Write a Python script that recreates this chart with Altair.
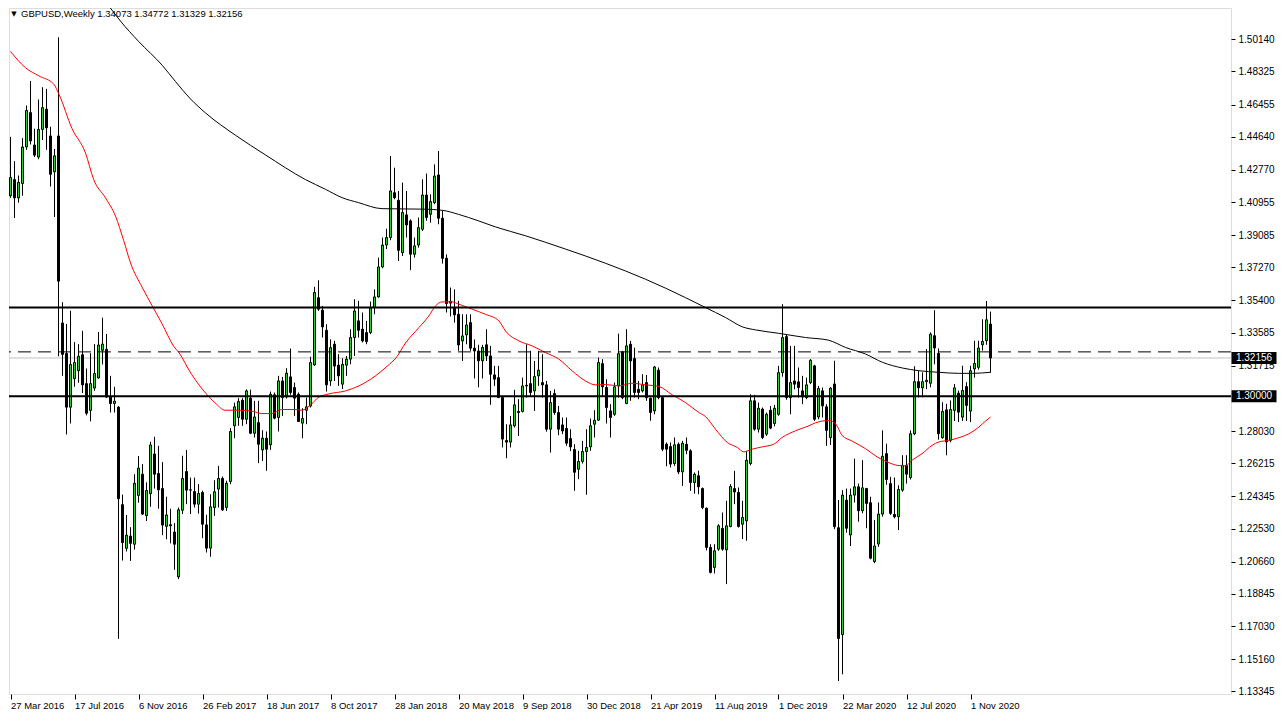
import altair as alt
import pandas as pd

# ---------------- data (weekly GBPUSD candles, first = week of 27 Mar 2016) ----------------
opens = [
    1.4131, 1.4222, 1.4119, 1.4200, 1.4406, 1.4600, 1.4417, 1.4349, 1.4505, 1.4619,
    1.4468, 1.4266, 1.4468, 1.3413, 1.3241, 1.2938, 1.3099, 1.3144, 1.3234, 1.3071,
    1.2920, 1.3046, 1.3103, 1.3259, 1.3264, 1.2995, 1.2959, 1.2938, 1.2388, 1.2142,
    1.2211, 1.2165, 1.2440, 1.2560, 1.2326, 1.2450, 1.2674, 1.2564, 1.2479, 1.2266,
    1.2275, 1.2234, 1.1981, 1.2357, 1.2575, 1.2470, 1.2462, 1.2391, 1.2457, 1.2274,
    1.2143, 1.2372, 1.2476, 1.2536, 1.2372, 1.2519, 1.2833, 1.2880, 1.2977, 1.2870,
    1.2989, 1.2791, 1.2851, 1.2697, 1.2763, 1.2726, 1.3008, 1.2880, 1.3086, 1.2996,
    1.3109, 1.3049, 1.3011, 1.2848, 1.2921, 1.2945, 1.3177, 1.3556, 1.3485, 1.3372,
    1.3086, 1.3293, 1.3175, 1.3068, 1.3175, 1.3209, 1.3331, 1.3425, 1.3378, 1.3359,
    1.3359, 1.3500, 1.3560, 1.3729, 1.3853, 1.3895, 1.4148, 1.4105, 1.3810, 1.4023,
    1.3989, 1.3801, 1.3853, 1.3942, 1.4135, 1.4026, 1.4092, 1.4248, 1.4004, 1.3778,
    1.3535, 1.3500, 1.3462, 1.3312, 1.3346, 1.3415, 1.3271, 1.3255, 1.3200, 1.3290,
    1.3227, 1.3120, 1.3105, 1.2992, 1.2750, 1.2741, 1.2833, 1.2914, 1.2914, 1.3062,
    1.3071, 1.3030, 1.3115, 1.3077, 1.3064, 1.2814, 1.3015, 1.2908, 1.2838, 1.2818,
    1.2761, 1.2699, 1.2588, 1.2632, 1.2688, 1.2714, 1.2842, 1.2865, 1.3184, 1.3049,
    1.2917, 1.2898, 1.3058, 1.3250, 1.2959, 1.3293, 1.3212, 1.3039, 1.3030, 1.3077,
    1.2989, 1.2917, 1.3147, 1.2992, 1.2729, 1.2716, 1.2620, 1.2729, 1.2573, 1.2729,
    1.2692, 1.2513, 1.2551, 1.2479, 1.2368, 1.2147, 1.2034, 1.2137, 1.2254, 1.2133,
    1.2265, 1.2479, 1.2457, 1.2278, 1.2297, 1.2620, 1.2974, 1.2814, 1.2927, 1.2786,
    1.2921, 1.2846, 1.2898, 1.3133, 1.3336, 1.2992, 1.3086, 1.3081, 1.3030, 1.2992,
    1.3077, 1.3171, 1.2883, 1.3030, 1.2940, 1.2766, 1.3069, 1.2258, 1.1655, 1.2414,
    1.2217, 1.2442, 1.2489, 1.2354, 1.2479, 1.2399, 1.2067, 1.2166, 1.2335, 1.2676,
    1.2507, 1.2333, 1.2320, 1.2470, 1.2610, 1.2541, 1.2788, 1.3082, 1.3047, 1.3082,
    1.3073, 1.3341, 1.3242, 1.2766, 1.2923, 1.2751, 1.2920, 1.3017, 1.2882, 1.3054,
    1.2916, 1.3154, 1.3163, 1.3290, 1.3313, 1.34073,
]
highs = [
    1.4463, 1.4326, 1.4245, 1.4456, 1.4640, 1.4778, 1.4509, 1.4674, 1.4743, 1.4734,
    1.4520, 1.4395, 1.5025, 1.3530, 1.3408, 1.3482, 1.3305, 1.3294, 1.3369, 1.3156,
    1.3243, 1.3294, 1.3362, 1.3443, 1.3351, 1.3115, 1.3053, 1.2945, 1.2445, 1.2330,
    1.2261, 1.2560, 1.2663, 1.2617, 1.2514, 1.2743, 1.2771, 1.2720, 1.2628, 1.2433,
    1.2365, 1.2284, 1.2372, 1.2664, 1.2697, 1.2541, 1.2541, 1.2504, 1.2467, 1.2331,
    1.2447, 1.2526, 1.2607, 1.2547, 1.2523, 1.2820, 1.2964, 1.2989, 1.2989, 1.3039,
    1.3037, 1.2974, 1.2974, 1.2808, 1.2801, 1.3026, 1.3021, 1.3115, 1.3109, 1.3158,
    1.3269, 1.3077, 1.3021, 1.2932, 1.2992, 1.3222, 1.3617, 1.3654, 1.3509, 1.3406,
    1.3321, 1.3312, 1.3237, 1.3214, 1.3227, 1.3378, 1.3547, 1.3538, 1.3472, 1.3425,
    1.3534, 1.3603, 1.3782, 1.3895, 1.3945, 1.4355, 1.4289, 1.4158, 1.4205, 1.4158,
    1.3998, 1.3895, 1.4008, 1.4224, 1.4256, 1.4139, 1.4308, 1.4383, 1.4045, 1.3800,
    1.3613, 1.3603, 1.3538, 1.3462, 1.3462, 1.3462, 1.3320, 1.3290, 1.3290, 1.3378,
    1.3284, 1.3171, 1.3171, 1.3002, 1.2842, 1.2889, 1.3036, 1.2983, 1.3105, 1.3293,
    1.3256, 1.3199, 1.3256, 1.3237, 1.3086, 1.3030, 1.3039, 1.2945, 1.2880, 1.2880,
    1.2814, 1.2729, 1.2692, 1.2748, 1.2814, 1.2874, 1.2921, 1.3218, 1.3209, 1.3096,
    1.2955, 1.3077, 1.3353, 1.3256, 1.3378, 1.3312, 1.3274, 1.3086, 1.3124, 1.3120,
    1.2992, 1.3171, 1.3162, 1.2995, 1.2739, 1.2739, 1.2767, 1.2739, 1.2748, 1.2767,
    1.2701, 1.2570, 1.2580, 1.2485, 1.2372, 1.2165, 1.2165, 1.2278, 1.2344, 1.2410,
    1.2504, 1.2579, 1.2485, 1.2410, 1.2692, 1.3011, 1.3008, 1.2964, 1.2936, 1.2908,
    1.2945, 1.2951, 1.3171, 1.3519, 1.3350, 1.3284, 1.3284, 1.3162, 1.3115, 1.3105,
    1.3209, 1.3177, 1.3058, 1.3049, 1.2955, 1.3051, 1.3200, 1.2414, 1.2470, 1.2479,
    1.2479, 1.2648, 1.2507, 1.2639, 1.2483, 1.2433, 1.2301, 1.2400, 1.2807, 1.2732,
    1.2545, 1.2541, 1.2498, 1.2667, 1.2667, 1.2807, 1.3169, 1.3144, 1.3135, 1.3266,
    1.3360, 1.3485, 1.3270, 1.2966, 1.2957, 1.2976, 1.3069, 1.3032, 1.3172, 1.3079,
    1.3172, 1.3313, 1.3313, 1.3434, 1.3537, 1.34772,
]
lows = [
    1.4119, 1.4005, 1.4092, 1.4131, 1.4390, 1.4420, 1.4349, 1.4337, 1.4445, 1.4390,
    1.4183, 1.4011, 1.3225, 1.3115, 1.2784, 1.2846, 1.3053, 1.3076, 1.3018, 1.2892,
    1.2858, 1.3030, 1.3099, 1.3179, 1.2991, 1.2908, 1.2908, 1.1631, 1.2073, 1.2124,
    1.2071, 1.2135, 1.2399, 1.2330, 1.2296, 1.2376, 1.2479, 1.2365, 1.2216, 1.2193,
    1.2170, 1.2021, 1.1968, 1.2335, 1.2391, 1.2335, 1.2372, 1.2338, 1.2199, 1.2118,
    1.2094, 1.2325, 1.2372, 1.2353, 1.2353, 1.2504, 1.2763, 1.2833, 1.2833, 1.2842,
    1.2786, 1.2767, 1.2622, 1.2635, 1.2579, 1.2697, 1.2870, 1.2801, 1.2889, 1.2987,
    1.3008, 1.2889, 1.2857, 1.2763, 1.2842, 1.2936, 1.3171, 1.3481, 1.3331, 1.3026,
    1.3058, 1.3086, 1.3058, 1.3040, 1.3115, 1.3180, 1.3227, 1.3331, 1.3303, 1.3293,
    1.3350, 1.3462, 1.3556, 1.3722, 1.3830, 1.3880, 1.4111, 1.3763, 1.3791, 1.3895,
    1.3711, 1.3782, 1.3838, 1.3932, 1.3990, 1.3979, 1.4083, 1.3970, 1.3748, 1.3472,
    1.3450, 1.3415, 1.3256, 1.3199, 1.3293, 1.3256, 1.3100, 1.3050, 1.3100, 1.3199,
    1.2951, 1.3058, 1.2990, 1.2711, 1.2650, 1.2711, 1.2823, 1.2776, 1.2908, 1.2992,
    1.3002, 1.2917, 1.3058, 1.2992, 1.2800, 1.2682, 1.2895, 1.2780, 1.2786, 1.2720,
    1.2690, 1.2466, 1.2532, 1.2620, 1.2444, 1.2692, 1.2767, 1.2860, 1.3000, 1.2846,
    1.2767, 1.2889, 1.2992, 1.2983, 1.2955, 1.2974, 1.2992, 1.2983, 1.3021, 1.2974,
    1.2861, 1.2898, 1.2983, 1.2690, 1.2605, 1.2598, 1.2607, 1.2560, 1.2494, 1.2673,
    1.2466, 1.2450, 1.2447, 1.2363, 1.2130, 1.2000, 1.2000, 1.2128, 1.2128, 1.1940,
    1.2260, 1.2391, 1.2259, 1.2194, 1.2184, 1.2610, 1.2805, 1.2795, 1.2758, 1.2776,
    1.2814, 1.2830, 1.2890, 1.3110, 1.2980, 1.2898, 1.3039, 1.2992, 1.2955, 1.2983,
    1.3068, 1.2860, 1.2870, 1.2880, 1.2720, 1.2725, 1.2250, 1.1393, 1.1431, 1.2230,
    1.2155, 1.2400, 1.2292, 1.2340, 1.2255, 1.2080, 1.2058, 1.2150, 1.2320, 1.2500,
    1.2330, 1.2311, 1.2245, 1.2461, 1.2507, 1.2530, 1.2780, 1.2994, 1.2994, 1.3040,
    1.3050, 1.3180, 1.2755, 1.2760, 1.2667, 1.2740, 1.2860, 1.2854, 1.2860, 1.2860,
    1.2854, 1.3105, 1.3150, 1.3257, 1.3290, 1.31329,
]
closes = [
    1.4234, 1.4119, 1.4206, 1.4406, 1.4612, 1.4440, 1.4360, 1.4505, 1.4628, 1.4514,
    1.4252, 1.4356, 1.3649, 1.3236, 1.2938, 1.3179, 1.3190, 1.3225, 1.3064, 1.2904,
    1.3071, 1.3128, 1.3289, 1.3294, 1.2995, 1.2959, 1.2972, 1.2422, 1.2174, 1.2216,
    1.2170, 1.2509, 1.2594, 1.2335, 1.2468, 1.2725, 1.2560, 1.2472, 1.2273, 1.2330,
    1.2269, 1.2165, 1.2359, 1.2536, 1.2470, 1.2472, 1.2391, 1.2451, 1.2278, 1.2143,
    1.2376, 1.2461, 1.2536, 1.2359, 1.2509, 1.2801, 1.2940, 1.2970, 1.2870, 1.3030,
    1.2791, 1.2883, 1.2729, 1.2763, 1.2701, 1.3011, 1.2876, 1.3086, 1.2992, 1.3130,
    1.3021, 1.2989, 1.2857, 1.2874, 1.2940, 1.3190, 1.3585, 1.3491, 1.3391, 1.3064,
    1.3274, 1.3170, 1.3115, 1.3180, 1.3209, 1.3331, 1.3481, 1.3372, 1.3312, 1.3308,
    1.3500, 1.3560, 1.3729, 1.3853, 1.3895, 1.4158, 1.4120, 1.3823, 1.4036, 1.3966,
    1.3801, 1.3848, 1.3951, 1.4135, 1.4008, 1.4098, 1.4242, 1.4004, 1.3778, 1.3523,
    1.3525, 1.3459, 1.3289, 1.3340, 1.3402, 1.3271, 1.3255, 1.3200, 1.3275, 1.3227,
    1.3124, 1.3096, 1.2992, 1.2758, 1.2741, 1.2838, 1.2951, 1.2908, 1.3058, 1.3058,
    1.3021, 1.3111, 1.3147, 1.3064, 1.2814, 1.2964, 1.2908, 1.2814, 1.2804, 1.2735,
    1.2714, 1.2571, 1.2632, 1.2688, 1.2711, 1.2833, 1.2864, 1.3190, 1.3053, 1.2936,
    1.2880, 1.3053, 1.3240, 1.2992, 1.3284, 1.3199, 1.3021, 1.3021, 1.3064, 1.2992,
    1.2908, 1.3165, 1.2992, 1.2701, 1.2701, 1.2617, 1.2726, 1.2573, 1.2735, 1.2695,
    1.2513, 1.2560, 1.2489, 1.2372, 1.2147, 1.2006, 1.2128, 1.2269, 1.2137, 1.2269,
    1.2491, 1.2460, 1.2265, 1.2316, 1.2639, 1.2974, 1.2814, 1.2932, 1.2767, 1.2898,
    1.2820, 1.2932, 1.3133, 1.3331, 1.2992, 1.3077, 1.3068, 1.3049, 1.2996, 1.3064,
    1.3203, 1.2870, 1.3043, 1.2945, 1.2807, 1.3045, 1.2264, 1.1633, 1.2442, 1.2255,
    1.2442, 1.2489, 1.2354, 1.2483, 1.2395, 1.2086, 1.2155, 1.2335, 1.2661, 1.2530,
    1.2339, 1.2320, 1.2474, 1.2610, 1.2560, 1.2788, 1.3082, 1.3047, 1.3082, 1.3090,
    1.3350, 1.3272, 1.2788, 1.2914, 1.2742, 1.2925, 1.3047, 1.2910, 1.3032, 1.2948,
    1.3144, 1.3185, 1.3272, 1.3309, 1.3431, 1.32156,
]

# moving averages (week index, price)
red_ma_week = [0, 3.75, 7.1, 10.8, 12.1, 15.4, 18.75, 20.8, 23.75, 26.25, 28.3, 30, 32.9,
               35.4, 37.9, 40.8, 42.1, 45.25, 49.4, 51.5, 53.6, 57.75, 60.7, 62.75, 65.25,
               67.75, 71.1, 72.75, 75.25, 76.9, 79.4, 83.75, 87.1, 91.25, 94.2, 96.5, 98.75,
               102.1, 104.6, 106.25, 107.9, 110.4, 112.1, 115.4, 118.75, 122.1, 123.75, 127.1,
               130.4, 133.75, 137.1, 140.4, 143.75, 146.25, 148.75, 152.1, 155.4, 158.75, 162.1,
               165.4, 168.75, 172.1, 173.75, 176.25, 179.2, 181.7, 183.3, 185.4, 187.9, 190.8,
               192.9, 196.25, 199.6, 201.25, 204.6, 206.25, 207.9, 210.4, 213.75, 216.7, 219.6,
               221.7, 223.75, 225.4, 227.9, 230.4, 232.1, 234.6, 237.1, 239.6, 242.1, 243.75, 245]
red_ma_value = [1.4945, 1.4853, 1.4807, 1.4761, 1.4704, 1.4509, 1.4372, 1.4222, 1.4119, 1.4016,
                1.3878, 1.3752, 1.3615, 1.3511, 1.3408, 1.3282, 1.3246, 1.3124, 1.3002, 1.2955,
                1.2921, 1.2921, 1.2914, 1.2902, 1.2902, 1.2925, 1.2925, 1.2921, 1.2955, 1.2992,
                1.3012, 1.3030, 1.3058, 1.3115, 1.3170, 1.3220, 1.3300, 1.3387, 1.3453, 1.3509,
                1.3532, 1.3532, 1.3519, 1.3491, 1.3462, 1.3425, 1.3368, 1.3312, 1.3284, 1.3246,
                1.3209, 1.3143, 1.3086, 1.3064, 1.3066, 1.3058, 1.3073, 1.3064, 1.3055, 1.3008,
                1.2964, 1.2908, 1.2885, 1.2814, 1.2739, 1.2711, 1.2686, 1.2701, 1.2714, 1.2729,
                1.2767, 1.2805, 1.2833, 1.2850, 1.2863, 1.2845, 1.2779, 1.2747, 1.2704, 1.2657,
                1.2625, 1.2610, 1.2607, 1.2639, 1.2676, 1.2723, 1.2742, 1.2751, 1.2766, 1.2788,
                1.2826, 1.2860, 1.2882]
black_ma_week = [23.75, 27.5, 32.0, 38.0, 41.25, 45.0, 48.75, 56.25, 63.75, 73.75, 78.75, 82.9,
                 87.0, 92.9, 103.75, 107.9, 112.0, 117.0, 121.25, 128.75, 138.75, 148.75, 158.75,
                 168.75, 173.75, 178.75, 183.0, 186.25, 192.0, 198.75, 204.5, 208.75, 213.75,
                 218.0, 223.0, 227.0, 232.0, 237.0, 240.5, 245.0]
black_ma_value = [1.5227, 1.5116, 1.5002, 1.4865, 1.4775, 1.4677, 1.4598, 1.4472, 1.4361, 1.4222,
                  1.4167, 1.4120, 1.4092, 1.4058, 1.4055, 1.4049, 1.4026, 1.3989, 1.3955, 1.3905,
                  1.3830, 1.3750, 1.3660, 1.3556, 1.3500, 1.3444, 1.3391, 1.3374, 1.3355, 1.3331,
                  1.3316, 1.3275, 1.3238, 1.3191, 1.3159, 1.3144, 1.3135, 1.3129, 1.3129, 1.3135]

solid_levels = [1.35, 1.30]
dashed_levels = [1.325]
marked_levels = [1.32156, 1.30000]

price_ticks = [1.50140, 1.48325, 1.46455, 1.44640, 1.42770, 1.40955, 1.39085, 1.37270,
               1.35400, 1.33585, 1.31715, 1.28030, 1.26215, 1.24345, 1.22530, 1.20660,
               1.18845, 1.17030, 1.15160, 1.13345]
tick_weeks = [0, 16, 32, 48, 64, 80, 96, 112, 128, 144, 160, 176, 192, 208, 224, 240]
tick_labels = ["27 Mar 2016", "17 Jul 2016", "6 Nov 2016", "26 Feb 2017", "18 Jun 2017",
               "8 Oct 2017", "28 Jan 2018", "20 May 2018", "9 Sep 2018", "30 Dec 2018",
               "21 Apr 2019", "11 Aug 2019", "1 Dec 2019", "22 Mar 2020", "12 Jul 2020",
               "1 Nov 2020"]

symbol_name = "GBPUSD,Weekly"

# ---------------- frames ----------------
n = len(opens)
candles = pd.DataFrame({"i": list(range(n)), "o": opens, "h": highs, "l": lows, "c": closes})
red_df = pd.DataFrame({"i": red_ma_week, "v": red_ma_value})
black_df = pd.DataFrame({"i": black_ma_week, "v": black_ma_value})
solid_df = pd.DataFrame({"p": solid_levels})
dashed_df = pd.DataFrame({"p": dashed_levels})
bid_df = pd.DataFrame({"p": [closes[-1]]})
box_df = pd.DataFrame({"p": marked_levels, "t": [f"{v:.5f}" for v in marked_levels]})
header = f"{symbol_name}  {opens[-1]:.5f} {highs[-1]:.5f} {lows[-1]:.5f} {closes[-1]:.5f}"
header_df = pd.DataFrame({"t": [header]})
tri_df = pd.DataFrame({"t": ["\u25BC"]})

# ---------------- styling ----------------
W, H = 1222, 686
FONT = "Liberation Sans"
GREEN = "#32cd32"

labels_js = "[" + ",".join(f"'{t}'" for t in tick_labels) + "]"
weeks_js = "[" + ",".join(str(w) for w in tick_weeks) + "]"

xs = alt.Scale(domain=[-0.375, 305.125], nice=False, zero=False, padding=0)
ys = alt.Scale(domain=[1.1320, 1.5190], nice=False, zero=False, padding=0)

x_axis = alt.Axis(values=tick_weeks, labelExpr=f"{labels_js}[indexof({weeks_js}, datum.value)]",
                  orient="bottom", title=None, grid=False, domain=False, tickSize=5,
                  tickColor="black", labelAlign="left", labelBaseline="top", labelPadding=1,
                  labelFont=FONT, labelFontSize=9.5, labelColor="black", labelOverlap=False,
                  labelFlush=False)
y_axis = alt.Axis(values=price_ticks, format=".5f", orient="right", title=None, grid=False,
                  domain=False, tickSize=4, tickColor="black", labelPadding=3, labelFont=FONT,
                  labelFontSize=10, labelColor="black", labelOverlap=False, labelFlush=False)


def X():
    return alt.X("i:Q", scale=xs, axis=x_axis)


def Y(f):
    return alt.Y(f"{f}:Q", scale=ys, axis=y_axis)


bid = alt.Chart(bid_df).mark_rule(color="#c0c0c0", strokeWidth=1).encode(y=Y("p"))

wicks = alt.Chart(candles).mark_rule(color="black", strokeWidth=1).encode(
    x=X(), y=Y("l"), y2=alt.Y2("h"))

bodies = alt.Chart(candles).mark_bar(size=2, stroke="black", strokeWidth=1,
                                     orient="vertical").encode(
    x=X(), y=Y("o"), y2=alt.Y2("c"),
    fill=alt.condition("datum.c >= datum.o", alt.value(GREEN), alt.value("black")))

red_line = alt.Chart(red_df).mark_line(color="#ff0000", strokeWidth=1, clip=True,
                                       interpolate="monotone").encode(x=X(), y=Y("v"))
black_line = alt.Chart(black_df).mark_line(color="black", strokeWidth=1, clip=True,
                                           interpolate="monotone").encode(x=X(), y=Y("v"))

dashed = alt.Chart(dashed_df).mark_rule(color="black", strokeWidth=1,
                                        strokeDash=[13, 7]).encode(y=Y("p"))
solid = alt.Chart(solid_df).mark_rule(color="black", strokeWidth=2).encode(y=Y("p"))

BOX = "M-1,-0.27L1,-0.27L1,0.27L-1,0.27Z"
boxes = alt.Chart(box_df).mark_point(shape=BOX, size=2025, filled=True, fill="black",
                                     opacity=1, strokeWidth=0).encode(
    x=alt.value(W + 23), y=Y("p"))
box_text = alt.Chart(box_df).mark_text(color="white", font=FONT, fontSize=10, align="center",
                                       baseline="middle").encode(
    x=alt.value(W + 23), y=Y("p"), text="t:N")

tri = alt.Chart(tri_df).mark_text(color="black", font="DejaVu Sans", fontSize=7,
                                  align="center", baseline="middle").encode(
    x=alt.value(5), y=alt.value(6), text="t:N")
head = alt.Chart(header_df).mark_text(color="black", font=FONT, fontSize=9.5, align="left",
                                      baseline="middle").encode(
    x=alt.value(12), y=alt.value(6), text="t:N")

chart = alt.layer(bid, wicks, bodies, red_line, black_line, dashed, solid, boxes, box_text,
                  tri, head).properties(width=W, height=H, padding=0).configure_view(
    stroke="black", strokeWidth=1).configure(background="white")

chart.save("out.html", embed_options={"renderer": "svg", "actions": False})
